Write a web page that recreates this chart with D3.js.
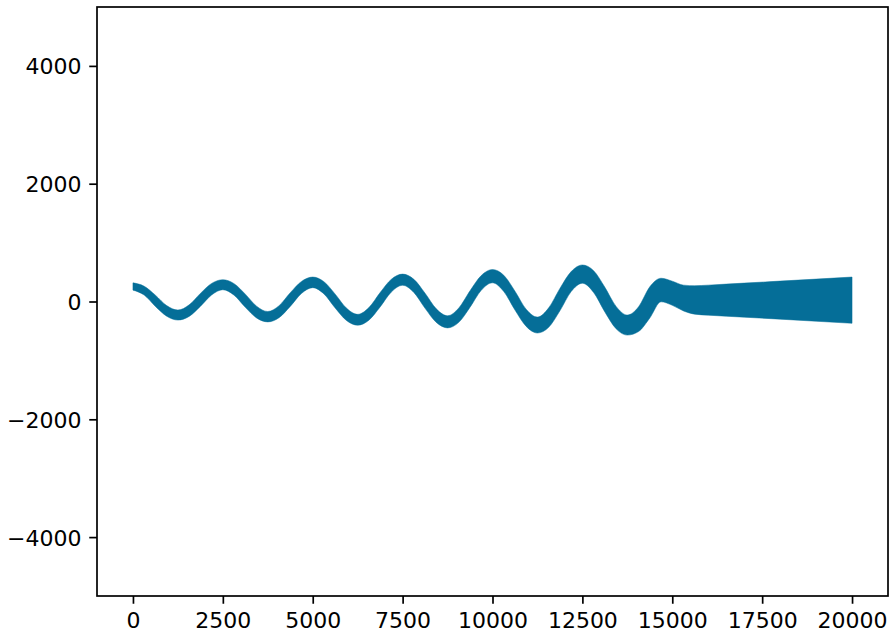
<!DOCTYPE html>
<html>
<head>
<meta charset="utf-8">
<script src="https://cdn.jsdelivr.net/npm/d3@7"></script>
<style>
  body { margin: 0; background: #fff; }
  text { font-family: "DejaVu Sans", sans-serif; }
</style>
</head>
<body>
<svg id="chart"></svg>
<script>
// band: x positions, upper edge, lower edge
const xs = [0, 312.5, 625, 937.5, 1250, 1562.5, 1875, 2187.5, 2500, 2812.5, 3125, 3437.5, 3750,
    4062.5, 4375, 4687.5, 5000, 5312.5, 5625, 5937.5, 6250, 6562.5, 6875, 7187.5, 7500,
    7812.5, 8125, 8437.5, 8750, 9062.5, 9375, 9687.5, 10000, 10312.5, 10625, 10937.5, 11250,
    11562.5, 11875, 12187.5, 12500, 12812.5, 13125, 13437.5, 13750, 14062.5, 14375, 14687.5,
    15000, 15312.5, 15625, 16000, 17000, 18000, 19000, 20000];
const upper = [317, 259, 107, -69, -145, -57, 137, 307, 370, 303, 125, -79, -170, -71, 149, 341,
    415, 336, 125, -112, -218, -103, 152, 378, 465, 377, 140, -125, -242, -110, 182, 441,
    543, 446, 175, -133, -265, -108, 222, 508, 620, 523, 242, -83, -230, -90, 250, 395,
    345, 278, 268, 278, 312, 346, 380, 415];
const lower = [193, 109, -83, -249, -315, -253, -83, 111, 200, 107, -99, -279, -346, -275, -83, 137,
    235, 128, -111, -322, -402, -317, -92, 162, 275, 153, -116, -355, -448, -354, -98, 191,
    317, 170, -145, -423, -535, -438, -158, 168, 310, 153, -178, -463, -570, -510, -280, -5,
    -65, -160, -215, -232, -266, -300, -335, -370];

const xTicks = [0, 2500, 5000, 7500, 10000, 12500, 15000, 17500, 20000];
const yTicks = [-4000, -2000, 0, 2000, 4000];

const W = 889, H = 635;
const margin = { top: 7, right: 1, bottom: 39, left: 97 };
const width = W - margin.left - margin.right,
      height = H - margin.top - margin.bottom;

const svg = d3.select("#chart").attr("width", W).attr("height", H);
const g = svg.append("g").attr("transform", `translate(${margin.left},${margin.top})`);

const x = d3.scaleLinear().domain([-1000, 21000]).range([0, width]);
const y = d3.scaleLinear().domain([-5000, 5000]).range([height, 0]);

const rows = xs.map((d, i) => ({ x: d, lo: lower[i], hi: upper[i] }));

g.append("clipPath").attr("id", "clip")
    .append("rect").attr("width", width).attr("height", height);

const area = d3.area()
    .x(d => x(d.x))
    .y0(d => y(d.lo))
    .y1(d => y(d.hi))
    .curve(d3.curveMonotoneX);

g.append("path")
    .datum(rows)
    .attr("clip-path", "url(#clip)")
    .attr("fill", "#056e98")
    .attr("stroke", "#056e98")
    .attr("stroke-width", 0.5)
    .attr("d", area);

const tickLen = 7.75, pad = 7.75;

const xAxis = g.append("g")
    .attr("transform", `translate(0,${height})`)
    .call(d3.axisBottom(x).tickValues(xTicks).tickFormat(d3.format("d"))
        .tickSize(tickLen).tickPadding(pad));

const yAxis = g.append("g")
    .call(d3.axisLeft(y).tickValues(yTicks).tickFormat(d3.format("d"))
        .tickSize(tickLen).tickPadding(pad));

[xAxis, yAxis].forEach(a => {
    a.select(".domain").remove();
    a.selectAll(".tick line").attr("stroke", "#000").attr("stroke-width", 1.7);
    a.selectAll(".tick text").attr("fill", "#000").style("font-size", "22px")
        .style("font-family", "DejaVu Sans, sans-serif");
});
yAxis.selectAll(".tick text").attr("dy", "0.36em");
xAxis.selectAll(".tick text").attr("dy", "0.76em");

// axes frame
g.append("rect")
    .attr("width", width).attr("height", height)
    .attr("fill", "none").attr("stroke", "#000").attr("stroke-width", 1.7);
</script>
</body>
</html>
